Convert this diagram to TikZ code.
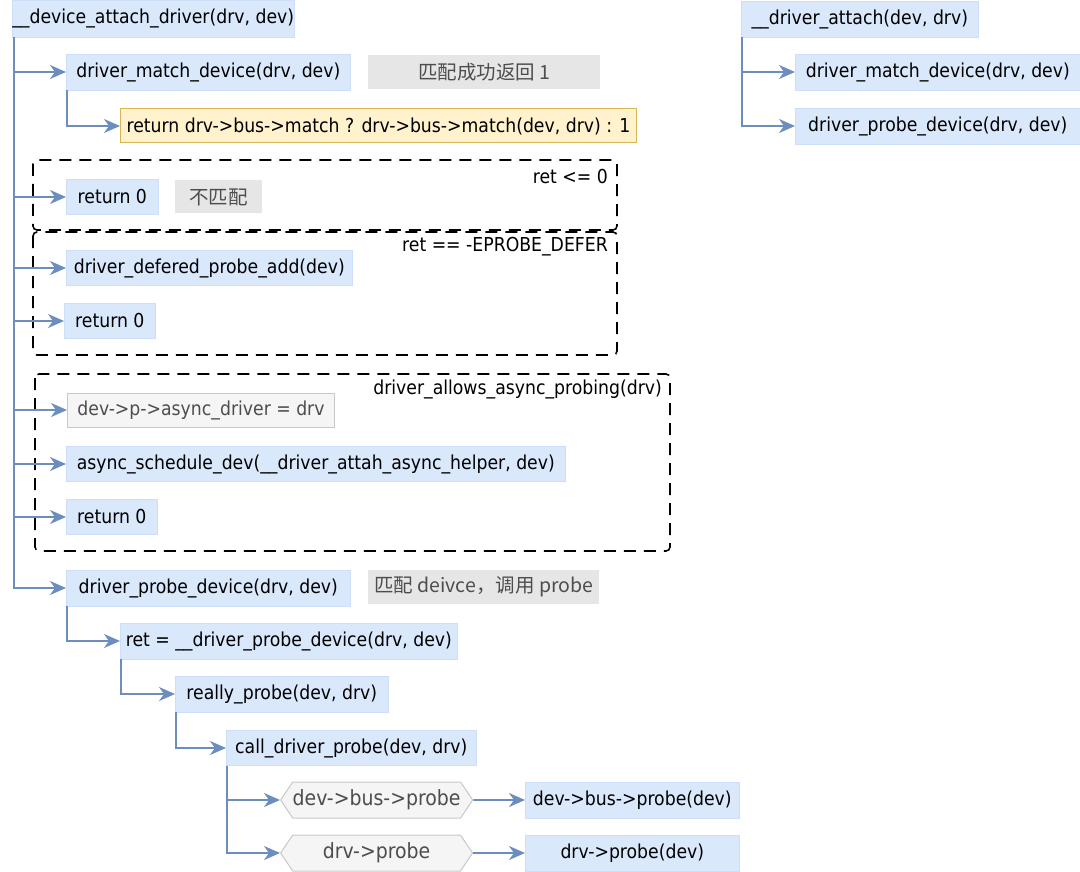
\documentclass[tikz,border=0pt]{standalone}
\usepackage{fontspec}
\setmainfont{DejaVu Sans Condensed}
\newfontfamily\cjk{Noto Sans CJK SC}
\usetikzlibrary{arrows.meta,positioning,shapes.symbols}
\definecolor{fnfill}{HTML}{DAE8FC}
\definecolor{fnedge}{HTML}{CCDEF8}
\definecolor{retfill}{HTML}{FFF2CC}
\definecolor{retedge}{HTML}{D6B656}
\definecolor{notefill}{HTML}{E6E6E6}
\definecolor{notetext}{HTML}{4D4D4D}
\definecolor{grayfill}{HTML}{F5F5F5}
\definecolor{grayedge}{HTML}{C8C8C8}
\definecolor{linkblue}{HTML}{6C8EBF}

\begin{document}
\begin{tikzpicture}[x=1pt, y=-1pt,
     fn/.style = {rectangle, fill=fnfill, draw=fnedge, line width=0.6pt, anchor=west,
                  minimum height=36pt, inner sep=0pt, font=\fontsize{19.2}{23}\selectfont},
    ret/.style = {fn, fill=retfill, draw=retedge, line width=1pt, minimum height=34pt},
   note/.style = {rectangle, fill=notefill, text=notetext, anchor=west, minimum height=34pt,
                  inner sep=0pt, font=\cjk\fontsize{19.5}{22}\selectfont},
   gray/.style = {fn, fill=grayfill, draw=grayedge, line width=1pt, text=notetext, minimum height=34pt},
    hex/.style = {signal, signal to=west and east, signal pointer angle=112, fill=grayfill,
                  draw=grayedge, line width=1pt, text=notetext, minimum height=36pt,
                  inner sep=0pt, anchor=west, font=\fontsize{21}{24}\selectfont},
   cond/.style = {draw=black, line width=1.6pt, dash pattern=on 12pt off 8pt, rounded corners=4pt},
  condtxt/.style = {anchor=east, inner sep=0pt, font=\fontsize{19.2}{23}\selectfont},
   link/.style = {-{Stealth[length=16pt, width=14pt, inset=5pt]}, draw=linkblue, line width=1.7pt}
]
\useasboundingbox (0,0) rectangle (1080,872);

% dashed condition frames
\draw[cond] (33,160) rectangle (617,230);
\node (c1) [condtxt] at (608,177) {ret <= 0};
\draw[cond] (33,232) rectangle (617,355);
\node (c2) [condtxt] at (608,247) {ret == -EPROBE\_DEFER};
\draw[cond] (35,374) rectangle (670,551);
\node (c3) [condtxt] at (662,389) {driver\_allows\_async\_probing(drv)};

% left call tree
\node (A)  [fn, minimum width=250pt, minimum height=37pt] at (12,18.5) {\_\_device\_attach\_driver(drv, dev)};
\node (m1) [fn, minimum width=284pt] at (66,72)  {driver\_match\_device(drv, dev)};
\node (n1) [note, minimum width=232pt] at (368,72) {匹配成功返回 1};
\node (y1) [ret, minimum width=516pt] at (120,126) {return drv->bus->match ? drv->bus->match(dev, drv) : 1};
\node (r1) [fn, minimum width=92pt, minimum height=35pt] at (66,197) {return 0};
\node (n2) [note, minimum width=87pt, minimum height=33pt] at (175,197) {不匹配};
\node (dp) [fn, minimum width=286pt, minimum height=35pt] at (66,268) {driver\_defered\_probe\_add(dev)};
\node (r2) [fn, minimum width=91pt, minimum height=35pt] at (64,321) {return 0};
\node (ad) [gray, minimum width=267pt] at (67,410) {dev->p->async\_driver = drv};
\node (as) [fn, minimum width=499pt, minimum height=35pt] at (66,464) {async\_schedule\_dev(\_\_driver\_attah\_async\_helper, dev)};
\node (r3) [fn, minimum width=91pt, minimum height=35pt] at (66,517) {return 0};
\node (pd) [fn, minimum width=284pt] at (66,588) {driver\_probe\_device(drv, dev)};
\node (n3) [note, minimum width=231pt] at (368,587) {匹配 deivce，调用 probe};
\node (rt) [fn, minimum width=337pt] at (120,641) {ret = \_\_driver\_probe\_device(drv, dev)};
\node (rp) [fn, minimum width=213pt] at (175,694) {really\_probe(dev, drv)};
\node (cp) [fn, minimum width=250pt, minimum height=35pt] at (226,748) {call\_driver\_probe(dev, drv)};
\node (h1) [hex, minimum width=192pt] at (280,800) {dev->bus->probe};
\node (h2) [hex, minimum width=192pt] at (280,853) {drv->probe};
\node (b1) [fn, minimum width=214pt] at (525,800) {dev->bus->probe(dev)};
\node (b2) [fn, minimum width=214pt] at (525,853) {drv->probe(dev)};

% right call tree
\node (R)   [fn, minimum width=237pt] at (741,19) {\_\_driver\_attach(dev, drv)};
\node (rm)  [fn, minimum width=285pt] at (795,72)  {driver\_match\_device(drv, dev)};
\node (rpd) [fn, minimum width=285pt] at (795,126) {driver\_probe\_device(drv, dev)};

% connectors
\coordinate (tA)  at ([xshift=2pt]A.south west);
\coordinate (tm)  at ([xshift=1pt]m1.south west);
\coordinate (tpd) at ([xshift=1pt]pd.south west);
\coordinate (trt) at ([xshift=1pt]rt.south west);
\coordinate (trp) at ([xshift=1pt]rp.south west);
\coordinate (tcp) at ([xshift=1pt]cp.south west);
\coordinate (tR)  at ([xshift=1pt]R.south west);
\foreach \dst in {m1, r1, dp, r2, ad, as, r3, pd}
  \draw[link] (tA) |- (\dst.west);
\draw[link] (tm)  |- (y1.west);
\draw[link] (tpd) |- (rt.west);
\draw[link] (trt) |- (rp.west);
\draw[link] (trp) |- (cp.west);
\draw[link] (tcp) |- (h1.west);
\draw[link] (tcp) |- (h2.west);
\draw[link] (h1) -- (b1);
\draw[link] (h2) -- (b2);
\draw[link] (tR) |- (rm.west);
\draw[link] (tR) |- (rpd.west);

\end{tikzpicture}
\end{document}
